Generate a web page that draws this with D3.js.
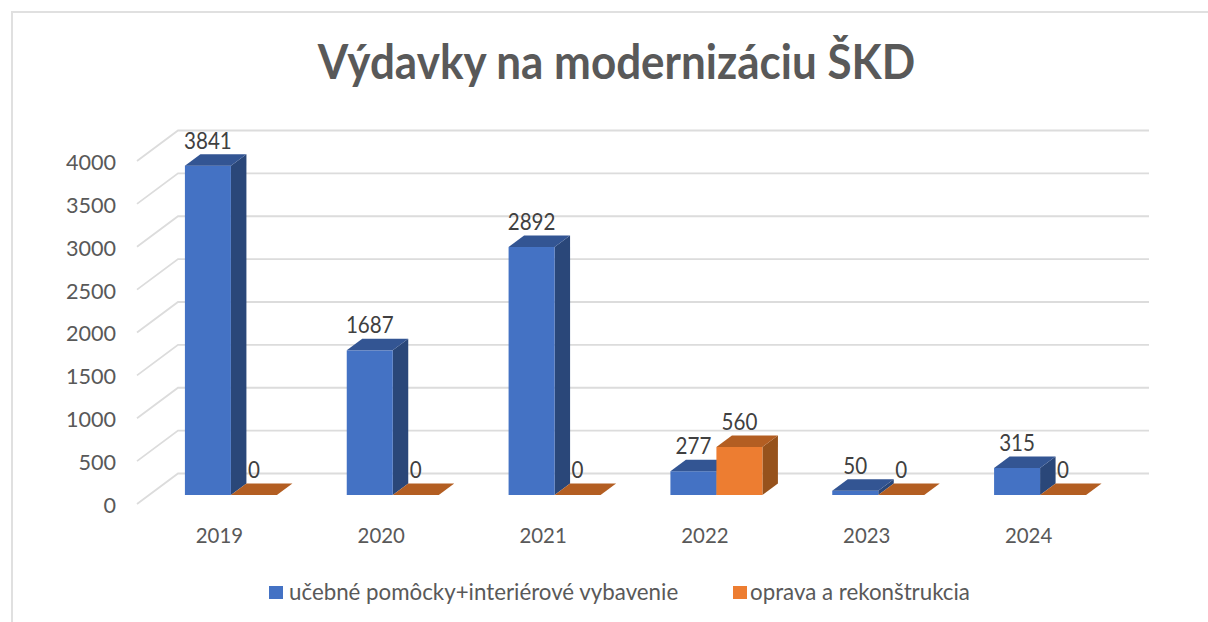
<!DOCTYPE html>
<html><head><meta charset="utf-8">
<script src="https://cdn.jsdelivr.net/npm/d3@7"></script>
<style>html,body{margin:0;background:#fff}svg{display:block}text{font-family:Lato,"Open Sans",sans-serif}</style>
</head><body><svg id="c" width="1208" height="622"></svg>
<script>
const titleText = "Výdavky na modernizáciu ŠKD";
const categories = ["2019","2020","2021","2022","2023","2024"];
const seriesNames = ["učebné pomôcky+interiérové vybavenie","oprava a rekonštrukcia"];
const pomocky = [3841,1687,2892,277,50,315];
const oprava = [0,0,0,560,0,0];
const yTicks = [0,500,1000,1500,2000,2500,3000,3500,4000];
const frontColors = ["#4472C4","#ED7D31"];
const topColors = ["#335593","#B35E22"];
const sideColors = ["#2A4779","#96521C"];

const svg = d3.select("#c");
const W = 1208, H = 622;
const depthX = 15.5, depthY = 11.5, barW = 46;
const y = d3.scaleLinear().domain([0,4000]).range([495,152]);
const x = d3.scaleBand().domain(categories).range([150,1121]);
const cx = c => x(c) + x.bandwidth()/2;

// frame
svg.append("path").attr("d",`M${W},12H12V${H}`).attr("fill","none").attr("stroke","#e0e0e0").attr("stroke-width",2);

// gridlines
const grid = svg.append("g").attr("fill","none").attr("stroke","#dcdcdc").attr("stroke-width",1.8);
yTicks.forEach(v=>{
  grid.append("path").attr("d",`M137,${y(v)+9}L178,${y(v)-21.5}H1149`);
});

// axes
const yAxis = d3.axisLeft(y).tickValues(yTicks).tickSize(0).tickPadding(0).tickFormat(d3.format("d"));
const ya = svg.append("g").attr("transform","translate(116,10.5)").call(yAxis);
ya.select(".domain").remove();
ya.selectAll("text").attr("font-size",21.6).attr("fill","#595959").style("font-family","Lato");

const xAxis = d3.axisBottom(x).tickSize(0).tickPadding(0);
const xa = svg.append("g").attr("transform","translate(-11.5,524.5)").call(xAxis);
xa.select(".domain").remove();
xa.selectAll("text").attr("font-size",20.4).attr("fill","#595959").attr("dy",0).attr("y",18).style("font-family","Lato");

// bars
const rows = categories.map((c,i)=>({c,vals:[pomocky[i],oprava[i]]}));
const groups = svg.selectAll("g.bar").data(rows).join("g").attr("class","bar");
[0,1].forEach(s=>{
  groups.each(function(d){
    const g = d3.select(this), x0 = cx(d.c)-barW+s*barW, x1 = x0+barW, t = y(d.vals[s]), b = y(0);
    if (d.vals[s] > 0) {
      g.append("path").attr("fill",sideColors[s])
        .attr("d",`M${x1},${t}L${x1+depthX},${t-depthY}V${b-depthY}L${x1},${b}Z`);
      g.append("rect").attr("x",x0).attr("y",t).attr("width",barW).attr("height",b-t).attr("fill",frontColors[s]);
    }
    g.append("path").attr("fill",topColors[s])
      .attr("d",`M${x0},${t}L${x0+depthX},${t-depthY}H${x1+depthX}L${x1},${t}Z`);
  });
});
// value labels, slightly stretched vertically like the reference's narrow face
const labels = svg.append("g").attr("font-size",20.6).attr("fill","#404040").attr("text-anchor","middle");
rows.forEach(d=>d.vals.forEach((v,s)=>{
  labels.append("text")
    .attr("transform",`translate(${cx(d.c)-barW+s*barW+barW/2},${y(v)-17}) scale(1,1.08)`)
    .text(v);
}));

// title
svg.append("text").attr("transform","translate(616.5,79) scale(1,1.1)").attr("text-anchor","middle")
  .attr("font-size",44).attr("font-weight",700).attr("fill","#595959").text(titleText);

// legend
const legendX = [269,733];
seriesNames.forEach((n,i)=>{
  svg.append("rect").attr("x",legendX[i]).attr("y",586).attr("width",14).attr("height",13).attr("fill",frontColors[i]);
  svg.append("text").attr("x",legendX[i]+[20,17][i]).attr("y",600).attr("font-size",22.3).attr("fill","#595959").text(n);
});
</script></body></html>
